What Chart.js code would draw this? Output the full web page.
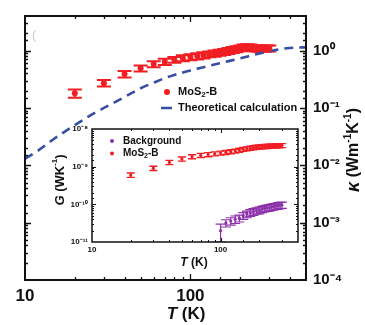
<!DOCTYPE html>
<html><head><meta charset="utf-8">
<script src="https://cdn.jsdelivr.net/npm/chart.js@4.4.0/dist/chart.umd.min.js"></script>
<style>
html,body{margin:0;padding:0;background:#fff;}
#wrap{position:relative;width:365px;height:325px;overflow:hidden;}
#main{position:absolute;left:0;top:0;}
#inset{position:absolute;left:50px;top:120px;}
</style></head><body>
<div id="wrap">
<canvas id="main" width="365" height="325"></canvas>
<canvas id="inset" width="255" height="155"></canvas>
</div>
<script>
// ---------- data ----------
const mosT = [20,30,40,50,60,70,80,90,100,110,120,130,140,150,160,170,180,190,200,210,220,230,240,250,260,270,280,290,300];
const mosKappa = [0.18,0.27,0.39,0.49,0.58,0.64,0.69,0.74,0.77,0.80,0.83,0.86,0.89,0.92,0.95,0.99,1.03,1.06,1.10,1.13,1.15,1.13,1.10,1.09,1.08,1.10,1.08,1.10,1.09];
const mosKappaErr = [0.03,0.035,0.05,0.06,0.07,0.08,0.08,0.09,0.09,0.10,0.10,0.10,0.11,0.11,0.11,0.12,0.12,0.13,0.13,0.14,0.14,0.14,0.13,0.13,0.13,0.13,0.13,0.13,0.13];
const theoryT = [10,12,15,20,25,30,40,50,60,70,80,100,120,150,200,250,300,350,400,450,500];
const theoryKappa = [0.013,0.018,0.029,0.050,0.075,0.100,0.155,0.22,0.275,0.33,0.375,0.45,0.51,0.60,0.73,0.86,0.97,1.06,1.11,1.13,1.14];
const insetMosT = [20,30,40,50,60,70,80,90,100,110,120,130,140,150,160,170,180,190,200,210,220,230,240,250,260,270,280,290,300];
const insetMosG = [6.0e-10,9.1e-10,1.3e-9,1.6e-9,1.85e-9,2.0e-9,2.1e-9,2.2e-9,2.3e-9,2.4e-9,2.5e-9,2.6e-9,2.75e-9,2.9e-9,3.0e-9,3.1e-9,3.2e-9,3.3e-9,3.35e-9,3.4e-9,3.45e-9,3.45e-9,3.5e-9,3.55e-9,3.55e-9,3.6e-9,3.6e-9,3.65e-9,3.65e-9];
const insetMosGErr = [0.8e-10,1.2e-10,1.7e-10,2.0e-10,2.3e-10,2.5e-10,2.6e-10,2.7e-10,2.8e-10,2.9e-10,3.0e-10,3.1e-10,3.3e-10,3.5e-10,3.6e-10,3.7e-10,3.8e-10,3.9e-10,4.0e-10,4.1e-10,4.1e-10,4.1e-10,4.2e-10,4.2e-10,4.2e-10,4.3e-10,4.3e-10,4.4e-10,4.4e-10];
const bgT = [100,110,120,130,140,150,160,170,180,190,200,210,220,230,240,250,260,270,280,290,300];
const bgG = [2.0e-11,3.2e-11,3.6e-11,4.0e-11,4.3e-11,5.0e-11,5.5e-11,6.0e-11,6.4e-11,6.8e-11,7.0e-11,7.4e-11,7.8e-11,8.0e-11,8.2e-11,8.5e-11,8.8e-11,9.0e-11,9.3e-11,9.5e-11,9.6e-11];
const bgGErr = [1.0e-11,0.7e-11,0.8e-11,0.9e-11,0.9e-11,1.0e-11,1.1e-11,1.2e-11,1.3e-11,1.3e-11,1.4e-11,1.4e-11,1.5e-11,1.5e-11,1.6e-11,1.6e-11,1.7e-11,1.7e-11,1.8e-11,1.8e-11,1.8e-11];
const mainXTickLabels = [10, 100];
const mainYTickExps = [-4, -3, -2, -1, 0];
const insetXTickLabels = [10, 100];
const insetYTickExps = [-11, -10, -9, -8];

// ---------- helpers ----------
const FF = "'Liberation Sans', Arial, sans-serif";
const RED = 'rgb(240,30,35)';
const BLUE = 'rgb(55,78,165)';
const PURPLE = 'rgb(140,50,170)';
const SUP = {'-':'⁻','0':'⁰','1':'¹','2':'²','3':'³','4':'⁴','5':'⁵','6':'⁶','7':'⁷','8':'⁸','9':'⁹'};
const sup = n => String(n).split('').map(c => SUP[c]).join('');
function isDecade(v){ const e = Math.log10(v); return Math.abs(e - Math.round(e)) < 1e-6; }
function powLabel(exps){ return v => { const e = Math.log10(v), r = Math.round(e); return (Math.abs(e-r) < 1e-6 && exps.includes(r)) ? '10' + sup(r) : ''; }; }
function linLabel(list){ return v => list.some(t => Math.abs(t - v) < 1e-6) ? String(Math.round(v)) : ''; }
function toXY(xs, ys){ return xs.map((x,i) => ({x, y: ys[i]})); }

function drawRich(ctx, parts, x, y, align){
  let w = 0;
  parts.forEach(p => { ctx.font = p.f; w += ctx.measureText(p.t).width; });
  let cx = align === 'left' ? x : x - w/2;
  ctx.textBaseline = 'middle'; ctx.textAlign = 'left';
  parts.forEach(p => { ctx.font = p.f; ctx.fillText(p.t, cx, y + (p.dy || 0)); cx += ctx.measureText(p.t).width; });
}

// frame + inward ticks on all sides
const framePlugin = {
  id: 'frame',
  beforeDraw(chart, args, o){
    if (o.fill){ const a = chart.chartArea; chart.ctx.save(); chart.ctx.fillStyle = '#fff'; chart.ctx.fillRect(a.left, a.top, a.right-a.left, a.bottom-a.top); chart.ctx.restore(); }
  },
  afterDraw(chart, args, o){
    const {ctx, chartArea: a, scales: {x, y}} = chart;
    ctx.save();
    ctx.strokeStyle = '#111'; ctx.lineWidth = o.tickWidth;
    ctx.beginPath();
    x.ticks.forEach(t => {
      if (t.value <= x.min || t.value >= x.max) return;
      const px = Math.round(x.getPixelForValue(t.value)) + 0.5;
      const L = isDecade(t.value) ? o.major : o.minor;
      ctx.moveTo(px, a.bottom); ctx.lineTo(px, a.bottom - L);
      ctx.moveTo(px, a.top); ctx.lineTo(px, a.top + L);
    });
    y.ticks.forEach(t => {
      if (t.value <= y.min || t.value >= y.max) return;
      const py = Math.round(y.getPixelForValue(t.value)) + 0.5;
      const L = isDecade(t.value) ? o.major : o.minor;
      ctx.moveTo(a.left, py); ctx.lineTo(a.left + L, py);
      ctx.moveTo(a.right, py); ctx.lineTo(a.right - L, py);
    });
    ctx.stroke();
    ctx.lineWidth = o.frameWidth;
    ctx.strokeRect(a.left, a.top, a.right - a.left, a.bottom - a.top);
    ctx.restore();
  }
};

// error bars drawn through the chart scales
const errPlugin = {
  id: 'errbars',
  beforeDatasetsDraw(chart){
    const {ctx, chartArea: a, scales: {x, y}} = chart;
    ctx.save();
    ctx.beginPath(); ctx.rect(a.left, a.top, a.right - a.left, a.bottom - a.top); ctx.clip();
    chart.data.datasets.forEach(ds => {
      if (!ds.errY) return;
      ctx.strokeStyle = ds.borderColor; ctx.lineWidth = ds.errWidth;
      const c = ds.capPx;
      ds.data.forEach((p, i) => {
        const e = ds.errY[i];
        const px = x.getPixelForValue(p.x);
        const yT = y.getPixelForValue(p.y + e);
        const yB = y.getPixelForValue(Math.max(p.y - e, y.min));
        ctx.beginPath();
        ctx.moveTo(px, yT); ctx.lineTo(px, yB);
        ctx.moveTo(px - c, yT); ctx.lineTo(px + c, yT);
        ctx.moveTo(px - c, yB); ctx.lineTo(px + c, yB);
        ctx.stroke();
      });
    });
    ctx.restore();
  }
};

// titles and legend of the main chart
const mainText = {
  id: 'mainText',
  afterDraw(chart){
    const ctx = chart.ctx;
    ctx.save();
    ctx.fillStyle = '#111';
    drawRich(ctx, [{t:'T', f:`italic bold 17px ${FF}`}, {t:' (K)', f:`bold 17px ${FF}`}], 186, 314);
    ctx.translate(354, 150); ctx.rotate(-Math.PI/2);
    drawRich(ctx, [{t:'κ', f:`italic bold 18px ${FF}`}, {t:' (Wm', f:`bold 16px ${FF}`}, {t:'-1', f:`bold 10px ${FF}`, dy:-6},
                   {t:'K', f:`bold 16px ${FF}`}, {t:'-1', f:`bold 10px ${FF}`, dy:-6}, {t:')', f:`bold 16px ${FF}`}], 0, 0);
    ctx.restore();
    // legend
    const ds = chart.data.datasets;
    ctx.save();
    ctx.fillStyle = ds[0].backgroundColor;
    ctx.beginPath(); ctx.arc(167, 92, 3, 0, Math.PI*2); ctx.fill();
    ctx.strokeStyle = ds[1].borderColor; ctx.lineWidth = 2.5;
    ctx.beginPath(); ctx.moveTo(161, 108); ctx.lineTo(172, 108); ctx.stroke();
    ctx.fillStyle = '#111';
    drawRich(ctx, [{t:'MoS', f:`bold 11px ${FF}`}, {t:'2', f:`bold 8px ${FF}`, dy:3}, {t:'-B', f:`bold 11px ${FF}`}], 178, 92, 'left');
    drawRich(ctx, [{t:ds[1].label, f:`bold 11px ${FF}`}], 178, 108, 'left');
    ctx.fillStyle = '#c8c8c8';
    drawRich(ctx, [{t:'(', f:`12px ${FF}`}], 34, 36);
    ctx.restore();
  }
};

const insetText = {
  id: 'insetText',
  afterDraw(chart){
    const ctx = chart.ctx;
    ctx.save();
    ctx.fillStyle = '#111';
    drawRich(ctx, [{t:'T', f:`italic bold 12px ${FF}`}, {t:' (K)', f:`bold 12px ${FF}`}], 144, 143);
    ctx.translate(10, 60); ctx.rotate(-Math.PI/2);
    drawRich(ctx, [{t:'G', f:`italic bold 13px ${FF}`}, {t:' (WK', f:`bold 13px ${FF}`}, {t:'-1', f:`bold 8px ${FF}`, dy:-5}, {t:')', f:`bold 13px ${FF}`}], 0, 0);
    ctx.restore();
    const ds = chart.data.datasets;
    ctx.save();
    ctx.fillStyle = ds[0].backgroundColor;
    ctx.beginPath(); ctx.arc(62, 21, 2, 0, Math.PI*2); ctx.fill();
    ctx.fillStyle = ds[1].backgroundColor;
    ctx.beginPath(); ctx.arc(62, 33.5, 2, 0, Math.PI*2); ctx.fill();
    ctx.fillStyle = '#111';
    drawRich(ctx, [{t:ds[0].label, f:`bold 10px ${FF}`}], 73, 21, 'left');
    drawRich(ctx, [{t:'MoS', f:`bold 10px ${FF}`}, {t:'2', f:`bold 7px ${FF}`, dy:3}, {t:'-B', f:`bold 10px ${FF}`}], 73, 33.5, 'left');
    ctx.restore();
  }
};

// ---------- main chart ----------
new Chart(document.getElementById('main'), {
  type: 'scatter',
  data: { datasets: [
    { label: 'MoS₂-B', data: toXY(mosT, mosKappa), errY: mosKappaErr, capPx: 7, errWidth: 2,
      backgroundColor: RED, borderColor: RED, pointRadius: 3, pointBorderWidth: 0, showLine: false },
    { label: 'Theoretical calculation', data: toXY(theoryT, theoryKappa), showLine: true,
      borderColor: BLUE, backgroundColor: BLUE, borderWidth: 2.6, borderDash: [9, 6], pointRadius: 0,
      cubicInterpolationMode: 'monotone' }
  ]},
  options: {
    responsive: false, animation: false, events: [],
    layout: { padding: { left: 25, top: 13, right: 0, bottom: 0 } },
    plugins: { legend: { display: false }, tooltip: { enabled: false },
               frame: { major: 6, minor: 3, tickWidth: 1.3, frameWidth: 2 } },
    scales: {
      x: { type: 'logarithmic', position: 'bottom', min: 10, max: 500,
           grid: { display: false, drawTicks: false }, border: { display: false },
           ticks: { autoSkip: false, maxRotation: 0, padding: 6, color: '#111',
                    font: { family: FF, weight: 'bold', size: 17 }, callback: linLabel(mainXTickLabels) },
           afterFit: s => { s.height = 45; } },
      y: { type: 'logarithmic', position: 'right', min: 1e-4, max: 4,
           grid: { display: false, drawTicks: false }, border: { display: false },
           ticks: { autoSkip: false, padding: 7, color: '#111',
                    font: { family: FF, weight: 'bold', size: 15 }, callback: powLabel(mainYTickExps) },
           afterFit: s => { s.width = 59; } }
    }
  },
  plugins: [framePlugin, errPlugin, mainText]
});

// ---------- inset chart ----------
new Chart(document.getElementById('inset'), {
  type: 'scatter',
  data: { datasets: [
    { label: 'Background', data: toXY(bgT, bgG), errY: bgGErr, capPx: 5, errWidth: 1.2,
      backgroundColor: PURPLE, borderColor: PURPLE, pointRadius: 1.6, pointBorderWidth: 0, showLine: false },
    { label: 'MoS₂-B', data: toXY(insetMosT, insetMosG), errY: insetMosGErr, capPx: 4, errWidth: 1.4,
      backgroundColor: RED, borderColor: RED, pointRadius: 1.6, pointBorderWidth: 0, showLine: false }
  ]},
  options: {
    responsive: false, animation: false, events: [],
    layout: { padding: { left: 0, top: 9, right: 7, bottom: 0 } },
    plugins: { legend: { display: false }, tooltip: { enabled: false },
               frame: { major: 4, minor: 2, tickWidth: 1, frameWidth: 1.5, fill: true } },
    scales: {
      x: { type: 'logarithmic', position: 'bottom', min: 10, max: 400,
           grid: { display: false, drawTicks: false }, border: { display: false },
           ticks: { autoSkip: false, maxRotation: 0, padding: 3, color: '#111',
                    font: { family: FF, weight: 'bold', size: 8 }, callback: linLabel(insetXTickLabels) },
           afterFit: s => { s.height = 33; } },
      y: { type: 'logarithmic', position: 'left', min: 1e-11, max: 1e-8,
           grid: { display: false, drawTicks: false }, border: { display: false },
           ticks: { autoSkip: false, padding: 4, color: '#111',
                    font: { family: FF, weight: 'bold', size: 8 }, callback: powLabel(insetYTickExps) },
           afterFit: s => { s.width = 42; } }
    }
  },
  plugins: [framePlugin, errPlugin, insetText]
});
</script>
</body></html>
